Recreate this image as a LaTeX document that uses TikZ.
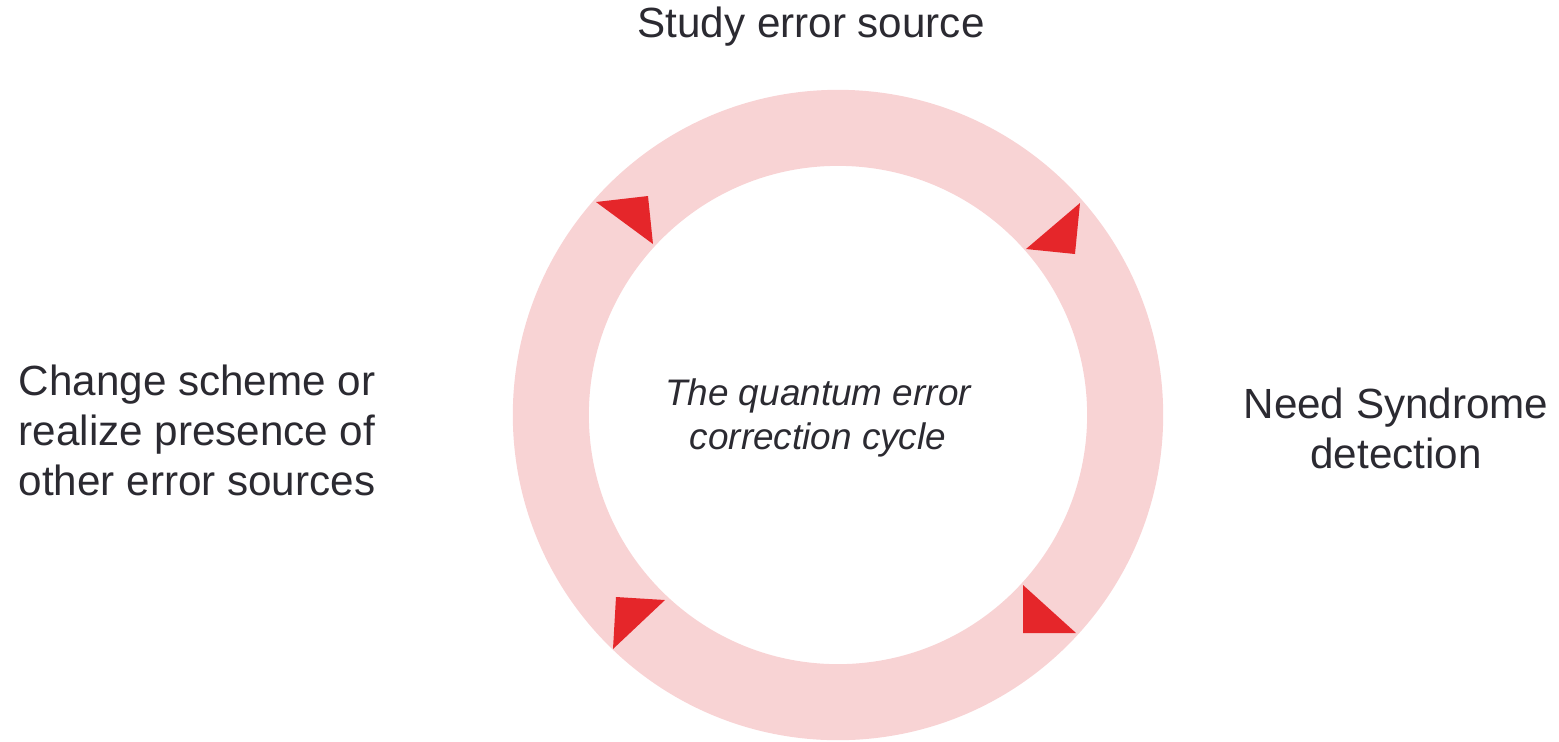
\documentclass[tikz,border=0pt]{standalone}
\usepackage{fontspec}
\setmainfont{Liberation Sans}
\usepackage{tikz}
\usetikzlibrary{positioning, calc}
\usepackage{xcolor}
\definecolor{cyclepink}{HTML}{F8D3D4}
\definecolor{cyclered}{HTML}{E5262A}
\definecolor{cycletext}{HTML}{2B2A31}

\begin{document}
\begin{tikzpicture}[
    x=0.01cm, y=-0.01cm,
    stage/.style={align=center, text=cycletext,
                  font=\fontsize{12}{14.2}\selectfont, inner sep=0pt},
    title/.style={align=center, text=cycletext,
                  font=\fontsize{10.5}{12.6}\selectfont\itshape, inner sep=0pt},
    tip/.style={fill=cyclered}
  ]
    \useasboundingbox (0,0) rectangle (1559,741);
    \coordinate (O) at (838,415);
    \fill[cyclepink, even odd rule] (O) circle[radius=3.25cm] circle[radius=2.49cm];

    % arrow tips on the ring
    \fill[tip] (596,202) -- (648,196) -- (653,244) -- cycle;
    \fill[tip] (1080,203) -- (1075,254) -- (1026,249) -- cycle;
    \fill[tip] (1023,585) -- (1076,633) -- (1023,633) -- cycle;
    \fill[tip] (665,600) -- (613,649) -- (616,597) -- cycle;

    \node[title] (T) at (818,418) {The quantum error\\correction cycle};
    \node[stage] (S) at (811,27) {Study error source};
    \node[stage] (N) at (1396,428) {Need Syndrome\\detection};
    \node[stage] (C) at (197,430)
      {Change scheme or\\realize presence of\\other error sources};
  \end{tikzpicture}
\end{document}
